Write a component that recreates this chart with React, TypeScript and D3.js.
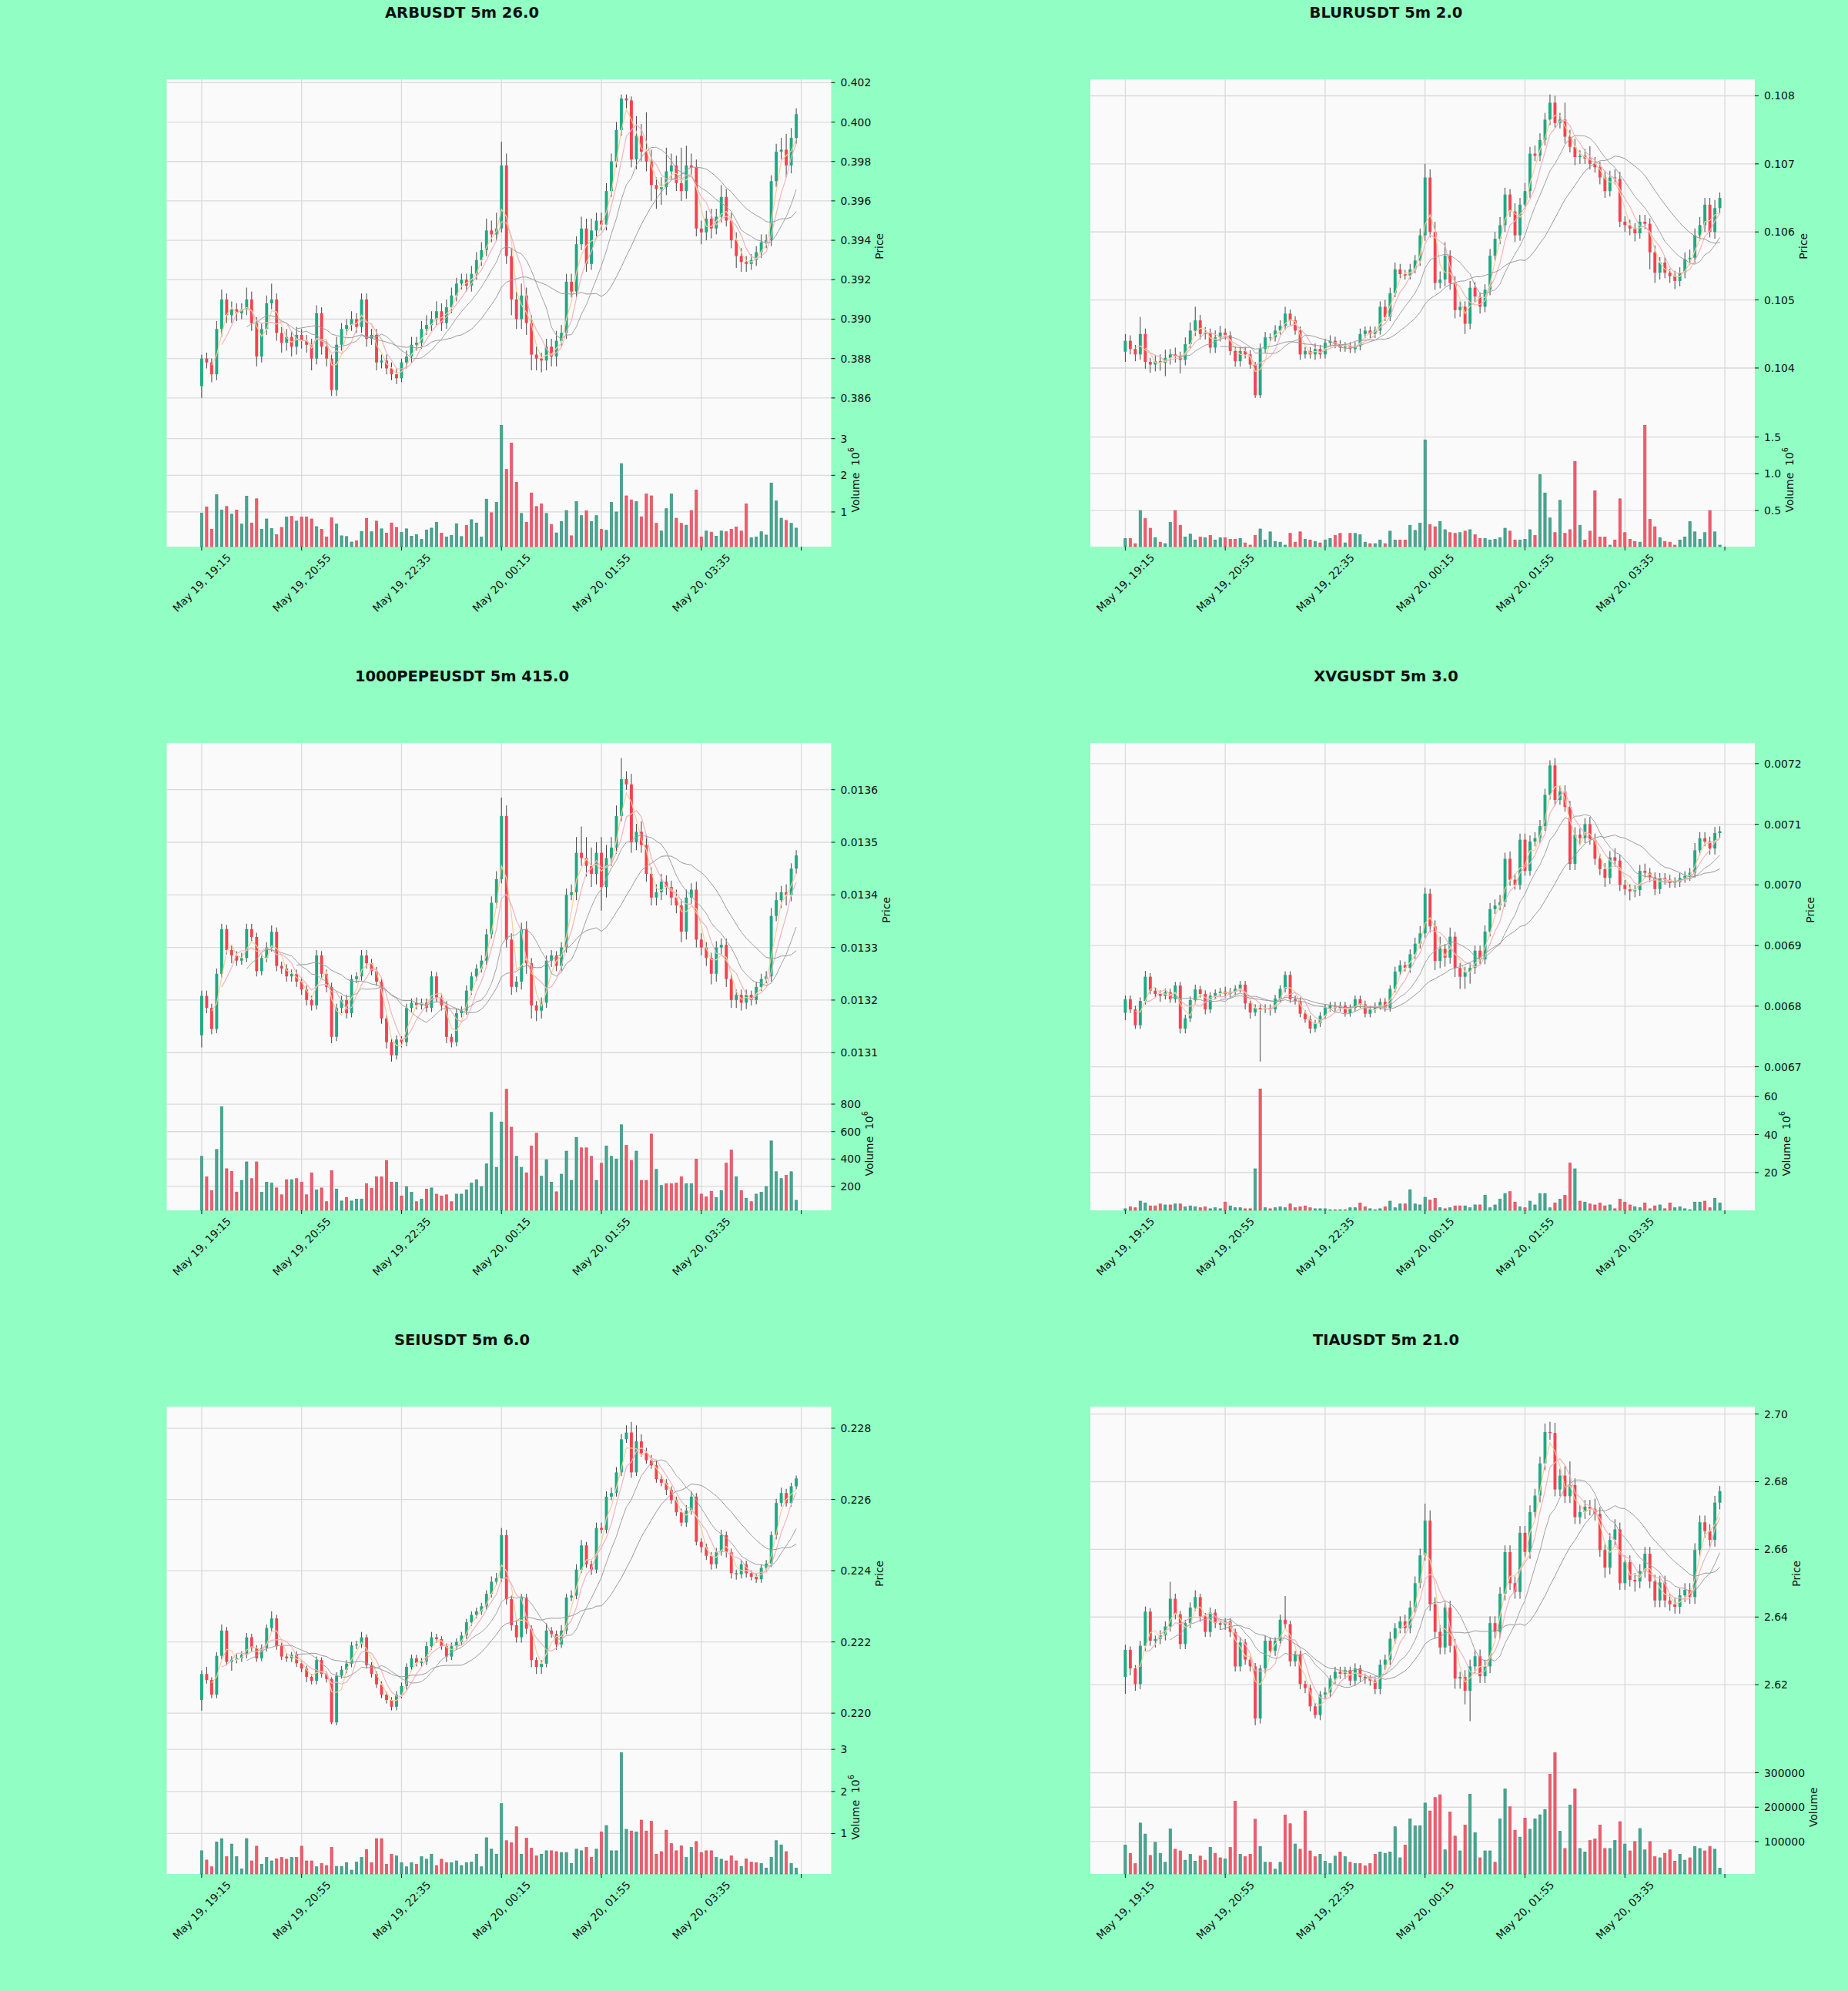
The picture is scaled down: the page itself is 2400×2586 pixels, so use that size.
import React from 'react'
import * as d3 from 'd3'

// figure
const W = 2400
const H = 2586
const FIG_BG = '#91ffc3'
const AX_BG = '#fafafa'
const GRID = '#dadada'
const TXT = '#101010'
const FONT = '"DejaVu Sans", sans-serif'

const UP = '#1fa982'
const DOWN = '#f4434f'
const VOL_UP = '#47a892'
const VOL_DOWN = '#ef5d6d'
const WICK = '#454545'

const mavPeriods = [3, 5, 10, 20]
const mavColors = ['#f6cf98', '#f5b3bd', '#a2a2a2', '#9a9a9a']

const xTickIdx = [0, 20, 40, 60, 80, 100, 120]
const xTickLabels = ['May 19, 19:15', 'May 19, 20:55', 'May 19, 22:35', 'May 20, 00:15', 'May 20, 01:55', 'May 20, 03:35', '']

// ---- ARBUSDT (prices x1e-4, volume x1e6)
const arbOpen0 = 3866
const arbClose = [3880,3878,3872,3895,3910,3902,3905,3903,3905,3910,
  3898,3881,3895,3908,3910,3893,3888,3891,3886,3892,
  3889,3887,3880,3903,3886,3880,3864,3887,3895,3897,
  3900,3896,3910,3890,3892,3878,3879,3875,3872,3870,
  3878,3881,3887,3888,3895,3897,3900,3904,3898,3906,
  3912,3918,3920,3917,3923,3930,3935,3945,3943,3946,
  3978,3932,3910,3900,3912,3898,3882,3880,3879,3886,
  3881,3889,3893,3919,3914,3938,3946,3928,3945,3950,
  3948,3965,3980,3996,4012,4011,3981,3993,3985,3980,
  3968,3966,3967,3975,3978,3969,3965,3978,3977,3946,
  3944,3951,3946,3952,3962,3950,3940,3932,3929,3928,
  3930,3934,3939,3940,3970,3985,3986,3978,3992,4004]
const arbHiWick = [2,3,2,4,5,3,4,3,3,6, 4,3,3,4,8,3,3,4,3,4, 3,3,3,4,3,3,2,4,3,3,
  4,3,3,3,3,3,3,3,3,3, 2,3,4,3,4,5,4,5,4,4, 4,3,3,3,4,4,4,6,5,8,
  12,6,4,4,6,4,4,4,3,4, 4,5,4,4,4,4,6,5,6,4, 4,4,4,4,2,2,2,10,6,20,
  6,4,5,12,6,5,18,10,6,4, 4,4,5,4,6,4,4,4,4,3, 3,3,4,3,3,4,6,8,5,3]
const arbLoWick = [6,3,4,3,4,4,4,4,3,3, 4,5,3,3,3,4,5,4,5,4, 4,4,6,3,4,4,3,3,3,3,
  3,3,3,4,3,4,3,3,3,3, 2,3,3,3,3,3,3,3,4,3, 3,3,3,3,3,3,3,3,4,3,
  2,4,8,5,5,6,8,6,6,5, 5,5,3,3,3,3,3,4,3,3, 3,3,3,3,3,4,4,5,5,5,
  8,10,8,4,4,4,5,4,4,4, 6,4,5,3,3,3,4,6,5,4, 3,3,3,3,3,3,4,6,4,3]
const arbVolume = [0.97,1.14,0.53,1.47,1.05,1.15,0.94,1.05,0.67,1.43,
  0.70,1.36,0.53,0.81,0.55,0.38,0.58,0.86,0.88,0.75,
  0.86,0.86,0.81,0.60,0.53,0.32,0.84,0.67,0.35,0.33,
  0.18,0.21,0.47,0.82,0.46,0.75,0.54,0.42,0.70,0.58,
  0.44,0.54,0.34,0.38,0.25,0.51,0.56,0.72,0.42,0.32,
  0.36,0.68,0.33,0.63,0.79,0.70,0.32,1.35,0.98,1.26,
  3.36,2.16,2.88,1.81,0.96,0.72,1.52,1.15,1.22,0.96,
  0.66,0.43,0.74,1.04,0.35,1.28,0.90,1.03,0.74,0.90,
  0.53,0.50,1.26,1.00,2.32,1.44,1.33,1.28,0.87,1.49,
  1.44,0.69,0.48,1.09,1.49,0.83,0.69,0.64,1.04,1.60,
  0.32,0.48,0.45,0.34,0.48,0.46,0.53,0.59,0.48,1.22,
  0.30,0.32,0.46,0.37,1.79,1.30,0.83,0.77,0.69,0.56]
const arbPriceTicks = ['0.386','0.388','0.390','0.392','0.394','0.396','0.398','0.400','0.402']

// ---- BLURUSDT (prices x1e-5, volume x1e6)
const blurOpen0 = 10424
const blurClose = [10440,10428,10420,10450,10409,10405,10410,10408,10415,10420,
  10418,10412,10435,10455,10470,10450,10452,10430,10445,10452,
  10448,10425,10410,10425,10420,10405,10360,10428,10445,10445,
  10455,10462,10480,10470,10455,10420,10425,10420,10428,10420,
  10437,10440,10435,10430,10432,10428,10432,10450,10455,10450,
  10455,10490,10475,10510,10545,10538,10536,10545,10558,10595,
  10680,10600,10525,10530,10565,10525,10485,10490,10465,10518,
  10505,10490,10515,10565,10590,10610,10655,10630,10595,10640,
  10660,10715,10712,10735,10765,10790,10760,10765,10740,10725,
  10710,10712,10708,10700,10695,10680,10660,10680,10678,10615,
  10610,10605,10598,10615,10612,10570,10540,10555,10540,10535,
  10528,10540,10560,10562,10595,10610,10640,10600,10635,10650]
const blurHiWick = [10,8,6,25,8,6,8,10,12,8, 10,6,10,12,20,8,8,6,10,10, 6,6,6,6,6,6,4,8,8,6,
  8,8,10,6,6,6,6,6,8,6, 6,8,6,6,6,6,6,8,6,6, 6,8,10,8,10,8,6,8,8,10,
  20,12,15,12,20,8,10,8,8,10, 8,6,8,10,10,12,10,8,12,10, 12,10,12,10,10,12,10,10,25,10,
  12,8,10,18,10,8,10,10,12,10, 8,8,8,10,10,8,10,8,8,6, 8,8,10,12,10,12,10,10,12,8]
const blurLoWick = [15,8,10,8,10,12,10,12,20,10, 10,20,8,6,8,8,8,8,8,6, 6,6,8,8,6,6,4,4,6,6,
  6,6,6,8,6,8,6,6,8,6, 6,6,6,6,6,6,6,6,6,6, 6,6,6,6,6,6,6,6,6,8,
  8,8,10,8,10,10,12,10,15,8, 8,10,8,8,8,8,10,8,10,8, 8,10,8,8,8,8,8,8,10,8,
  12,10,8,8,8,10,10,8,8,8, 10,10,12,8,8,25,15,10,8,10, 12,8,8,8,8,8,10,8,10,8]
const blurVolume = [0.12,0.12,0.05,0.5,0.39,0.26,0.13,0.07,0.05,0.34,
  0.5,0.3,0.14,0.18,0.1,0.14,0.13,0.16,0.1,0.13,
  0.13,0.11,0.11,0.12,0.06,0.03,0.16,0.25,0.1,0.21,
  0.08,0.07,0.03,0.19,0.07,0.21,0.11,0.1,0.08,0.06,
  0.1,0.12,0.16,0.19,0.06,0.19,0.19,0.17,0.07,0.05,
  0.05,0.1,0.05,0.22,0.1,0.1,0.1,0.3,0.23,0.33,
  1.46,0.31,0.28,0.35,0.24,0.2,0.19,0.2,0.22,0.24,
  0.17,0.12,0.12,0.1,0.11,0.13,0.26,0.22,0.1,0.1,
  0.11,0.24,0.16,0.99,0.74,0.4,0.2,0.64,0.19,0.24,
  1.17,0.3,0.1,0.22,0.77,0.14,0.14,0.03,0.1,0.66,
  0.2,0.11,0.08,0.07,1.66,0.38,0.28,0.13,0.08,0.07,
  0.03,0.1,0.14,0.35,0.21,0.11,0.2,0.5,0.21,0.03]
const blurPriceTicks = ['0.104','0.105','0.106','0.107','0.108']

// ---- 1000PEPEUSDT (prices x1e-6, volume x1e6)
const pepeOpen0 = 13133
const pepeClose = [13208,13185,13145,13250,13335,13295,13285,13275,13280,13335,
  13320,13255,13280,13300,13330,13265,13260,13245,13250,13235,
  13220,13200,13190,13285,13250,13225,13130,13185,13200,13175,
  13240,13245,13285,13270,13255,13235,13165,13120,13095,13125,
  13120,13185,13195,13190,13195,13185,13245,13205,13190,13130,
  13120,13175,13180,13218,13245,13260,13275,13325,13385,13430,
  13550,13315,13225,13235,13335,13270,13190,13180,13195,13275,
  13285,13265,13300,13400,13405,13480,13470,13455,13440,13480,
  13415,13470,13490,13550,13620,13610,13500,13520,13495,13440,
  13395,13405,13425,13415,13395,13380,13330,13395,13410,13315,
  13300,13280,13250,13300,13305,13240,13200,13210,13195,13210,
  13200,13225,13240,13245,13360,13390,13405,13400,13450,13475]
const pepeHiWick = [10,10,8,10,10,8,10,8,10,10, 10,8,8,10,12,8,8,8,8,8, 8,8,8,10,8,8,8,8,8,10,
  8,8,10,10,8,8,6,6,8,8, 6,8,8,10,8,8,10,8,8,8, 6,8,8,10,8,8,10,10,12,15,
  35,20,12,10,12,15,10,8,10,10, 10,8,10,12,15,30,50,40,35,20, 30,25,20,20,40,15,20,15,20,20,
  12,15,15,12,12,15,12,15,12,15, 12,10,10,12,12,12,10,10,10,10, 8,10,10,10,15,15,12,15,10,10]
const pepeLoWick = [23,10,10,8,8,8,15,10,8,8, 8,10,8,8,8,10,10,10,10,10, 10,10,10,8,8,10,12,8,10,10,
  8,8,8,10,8,8,10,12,12,8, 10,8,8,8,8,8,8,8,10,12, 10,8,8,8,8,8,8,8,8,10,
  8,15,15,10,15,20,25,20,15,10, 12,10,10,10,10,15,15,20,25,20, 45,20,15,12,10,10,20,15,15,15,
  15,15,15,15,15,15,20,15,12,15, 15,15,20,15,15,15,15,15,15,12, 10,8,8,8,10,10,15,20,12,10]
const pepeVolume = [420,270,170,470,780,330,310,160,245,380,
  258,380,158,232,225,190,140,250,250,258,
  232,140,300,175,190,90,315,182,95,120,
  95,108,108,220,188,270,270,390,232,232,
  132,200,158,90,108,182,190,145,132,140,
  90,145,145,175,225,250,200,365,740,340,
  670,908,632,420,340,300,495,588,275,395,
  232,162,290,458,245,558,482,482,420,245,
  370,495,420,400,650,500,390,458,245,245,
  582,325,208,220,220,225,270,220,220,400,
  145,125,165,120,170,370,465,270,170,115,
  90,145,158,200,532,308,258,282,308,100]
const pepePriceTicks = ['0.0131','0.0132','0.0133','0.0134','0.0135','0.0136']

// ---- XVGUSDT (prices x1e-7, volume x1e6)
const xvgOpen0 = 67890
const xvgClose = [68115,67945,67685,68085,68485,68255,68200,68170,68230,68115,
  68340,67630,67800,68100,68275,68200,67945,68170,68215,68240,
  68200,68240,68285,68355,68045,67895,67970,67945,67970,67945,
  68125,68285,68515,68115,68085,67875,67785,67630,67715,67840,
  67970,68010,67970,68010,67885,67970,68115,68030,67875,67945,
  68000,68070,67970,68285,68570,68675,68630,68855,69030,69200,
  69855,69315,68745,68945,68800,69145,68630,68485,68570,68630,
  68915,68770,69230,69600,69660,69715,70430,70085,70000,70745,
  70230,70715,70770,70970,71485,71970,71400,71540,71285,70345,
  70830,70770,71000,70745,70430,70260,70115,70455,70400,70000,
  69930,69895,69915,70230,70200,70125,69930,70115,70085,70030,
  70045,70115,70145,70200,70570,70770,70715,70600,70855,70885]
const xvgHiWick = [60,60,60,60,95,60,60,60,60,60, 60,60,60,60,80,60,60,60,60,60, 80,60,60,60,60,60,60,60,60,60,
  60,60,60,60,60,60,60,60,60,60, 60,60,60,60,60,60,60,60,60,60, 60,60,60,60,80,80,60,80,100,120,
  100,80,100,200,80,150,80,80,80,80, 80,80,100,100,100,120,100,120,100,100, 100,100,100,100,100,85,120,100,100,100,
  120,100,100,120,100,80,100,100,150,100, 80,80,80,100,120,80,80,80,80,80, 80,80,80,80,120,100,100,80,100,80]
const xvgLoWick = [120,60,60,60,60,60,60,100,60,60, 60,80,80,60,60,60,80,60,60,60, 60,60,60,60,100,100,60,860,60,100,
  60,60,60,60,60,60,60,80,60,60, 60,60,60,60,60,60,60,60,60,60, 60,60,60,60,60,60,60,80,80,80,
  80,100,150,120,150,100,150,200,200,200, 100,80,80,80,80,80,80,100,80,80, 80,80,80,80,80,80,100,80,80,100,
  100,100,80,80,100,100,150,100,100,100, 100,150,100,100,80,80,100,80,80,80, 80,80,80,80,80,80,80,100,100,80]
const xvgVolume = [1,2,1.5,5,4,2.5,2.5,3.5,3,3,
  3.5,3.5,2,2.5,2,1.5,2,1,1.5,1,
  4.5,2.5,1.5,1.5,1,1,22,64,1.5,1,
  1.5,2,1.5,3.5,1.5,2,2.5,1.5,1,1,
  1,0.5,0.5,0.5,0.5,1.5,1.5,4,2,1,
  0.5,1,2,5,1.5,3.5,3.5,11,3.5,3,
  7,5.5,6.5,1.5,1,1.5,2.5,2.5,2.5,1.5,
  3,3,8,1.5,3,6,9,10,4.5,2,
  1.5,5,3,9,9,1.5,4,6,8,25,
  22,5,4.5,3.5,3,4,2.5,3,1,6,
  4.5,3,2,1.5,4,1,2.5,3,1,4,
  1.5,2,1,0.5,4.5,4.5,5,1.5,6.5,4]
const xvgPriceTicks = ['0.0067','0.0068','0.0069','0.0070','0.0071','0.0072']

// ---- SEIUSDT (prices x1e-5, volume x1e6)
const seiOpen0 = 22037
const seiClose = [22110,22093,22052,22161,22232,22144,22150,22154,22164,22213,
  22183,22154,22183,22239,22266,22188,22159,22154,22164,22140,
  22125,22102,22091,22149,22110,22096,21974,22105,22122,22139,
  22190,22193,22213,22135,22110,22081,22052,22037,22018,22052,
  22076,22130,22154,22141,22145,22188,22213,22208,22188,22159,
  22188,22200,22218,22255,22276,22286,22300,22335,22369,22379,
  22500,22320,22247,22213,22325,22237,22149,22130,22139,22232,
  22222,22193,22232,22325,22330,22403,22471,22418,22403,22520,
  22515,22608,22618,22676,22769,22788,22676,22763,22730,22710,
  22696,22657,22647,22627,22598,22564,22535,22569,22608,22481,
  22466,22442,22418,22452,22500,22452,22393,22390,22418,22393,
  22383,22376,22408,22420,22500,22590,22618,22590,22637,22659]
const seiHiWick = [10,20,8,10,17,10,10,12,10,12, 10,8,10,10,20,10,10,10,8,10, 8,8,8,10,8,8,5,10,10,10,
  10,10,15,8,8,8,8,8,8,10, 10,10,10,10,10,12,15,10,8,8, 10,10,10,10,10,10,10,10,15,15,
  20,15,10,15,10,10,10,8,10,20, 10,10,15,10,15,15,15,10,10,15, 15,15,15,15,15,20,30,45,20,15,
  15,12,12,10,10,10,10,15,15,10, 10,10,10,12,15,10,10,10,12,10, 8,8,10,10,10,12,15,12,10,8]
const seiLoWick = [30,10,10,10,10,10,25,10,10,10, 10,10,8,10,10,10,10,10,10,10, 10,15,10,10,10,10,5,8,8,10,
  10,10,10,10,10,10,10,10,10,10, 10,10,10,10,10,10,10,10,10,15, 10,10,10,10,10,10,10,10,10,10,
  10,15,15,15,15,15,20,20,20,10, 10,15,10,10,10,10,10,10,15,10, 10,10,10,10,10,10,15,10,10,10,
  10,10,10,15,10,10,10,12,12,10, 15,12,15,12,10,15,15,15,12,12, 10,10,10,10,10,12,10,10,10,8]
const seiVolume = [0.59,0.37,0.21,0.8,0.88,0.45,0.75,0.45,0.16,0.88,
  0.35,0.7,0.27,0.43,0.35,0.4,0.43,0.39,0.43,0.43,
  0.7,0.35,0.35,0.21,0.29,0.24,0.67,0.22,0.22,0.31,
  0.13,0.32,0.43,0.62,0.31,0.88,0.88,0.27,0.51,0.47,
  0.31,0.21,0.31,0.27,0.45,0.39,0.51,0.24,0.39,0.31,
  0.31,0.35,0.24,0.31,0.32,0.51,0.21,0.9,0.63,0.51,
  1.71,0.83,0.78,1.16,0.51,0.89,0.65,0.47,0.51,0.59,
  0.59,0.57,0.55,0.55,0.29,0.63,0.59,0.67,0.43,0.63,
  1.04,1.19,0.59,0.59,2.92,1.1,1.06,1.04,1.32,1.06,
  1.29,0.51,0.57,1.08,0.76,0.59,0.71,0.43,0.67,0.81,
  0.55,0.59,0.59,0.43,0.39,0.35,0.47,0.35,0.22,0.4,
  0.32,0.31,0.29,0.18,0.43,0.83,0.73,0.57,0.29,0.18]
const seiPriceTicks = ['0.220','0.222','0.224','0.226','0.228']

// ---- TIAUSDT (prices x1e-3, volume in thousands)
const tiaOpen0 = 2622.3
const tiaClose = [2630.3,2624.8,2620.2,2631.5,2641.6,2633,2633.5,2634.6,2637.2,2645.4,
  2640.8,2632,2638.2,2642.8,2645.9,2640.2,2635.6,2641.3,2638.2,2637.7,
  2638.7,2635.6,2625.4,2632.5,2627.4,2625.4,2610,2624.8,2633,2630,
  2633,2639.2,2637.9,2626.9,2629,2620.2,2619,2613.6,2611,2617.1,
  2617.7,2621.8,2623.8,2623.2,2624.3,2621.2,2624.8,2622.3,2621.8,2621.2,
  2618.7,2625.9,2627.4,2633.6,2636.7,2638.7,2636.7,2642.8,2650,2658.2,
  2668.5,2643.8,2635.6,2631,2642.8,2631.5,2621.8,2622.3,2618.2,2625.4,
  2628.4,2622.5,2625.4,2638.2,2635.6,2646.9,2659.2,2650,2647.4,2664.9,
  2659.2,2671,2675.9,2685.4,2694.7,2694.4,2677.7,2681.8,2675.7,2679,
  2669.5,2671,2672.6,2672,2670.5,2659.8,2654.6,2662.8,2665.9,2650,
  2656.2,2651,2650.5,2653.6,2658.7,2650.5,2644.9,2650.2,2644.9,2643.8,
  2643,2646.4,2648,2645.9,2659.8,2668,2665.4,2662.8,2673.8,2677.2]
const tiaHiWick = [1.5,1,1,1.5,1.5,1,1,1.5,1.5,5, 1.5,1,1,1.5,2,1,1,1.5,1,1, 1,1,1,1.5,1,1,1,1,1.5,1,
  1,1.5,7,1,1,1,1,1,1,1, 1.5,1,1.5,1.5,1,1,1.5,1,1,1, 1,1.5,1.5,2,1.5,1.5,2,2,2,2,
  5,3,2,2,2,2,2,1.5,2,2, 2,2,2,2,2,2,2,2,2,2, 2,2,2,2,2.5,3,3,2,3,7,
  2,2,2,2,3,2,2,2,3,2, 2,2,2,2,2,2,2,2,2,2, 2,2,2,2,2,2,2,2,2,1.5]
const tiaLoWick = [5,2,2,1.5,1.5,1.5,2,1.5,1.5,1.5, 1.5,1.5,1.5,1.5,1,1.5,1.5,1.5,1.5,1.5, 1.5,1.5,1.5,1.5,1.5,1.5,2,1.5,1.5,1.5,
  1.5,1.5,1.5,1.5,1.5,1.5,1.5,1.5,1,1.5, 1.5,1.5,1.5,1.5,1.5,1.5,1.5,1.5,1.5,1.5, 1.5,1.5,1.5,1.5,1.5,1.5,1.5,1.5,1.5,1.5,
  1.5,2,2,2,2,2,3,3,4,9, 2,2,2,2,2,2,2,2,2,2, 2,2,2,2,2,2,2,2,2,2,
  2,2,2,2,2,2,3,2,2,2, 2,2,3,2,2,2,2,2,2,2, 2,2,2,2,2,2,2,2,2,2]
const tiaVolume = [90,66,36,154,122,60,98,66,40,137,
  78,73,46,63,43,58,46,83,66,53,
  50,83,217,63,56,63,165,86,40,40,
  20,40,177,152,93,78,189,73,56,63,
  43,36,58,70,56,40,36,36,30,36,
  63,70,66,70,143,53,90,166,146,146,
  212,189,228,236,76,186,116,73,148,238,
  126,53,73,73,40,166,253,201,133,113,
  168,136,166,178,193,296,358,130,80,206,
  253,80,70,103,108,148,80,80,103,158,
  93,73,100,138,76,100,56,53,66,76,
  43,63,46,53,86,80,73,86,78,23]
const tiaPriceTicks = ['2.62','2.64','2.66','2.68','2.70']

interface PanelSpec {
  title: string
  unit: number
  open0: number
  close: number[]
  hi: number[]
  lo: number[]
  vol: number[]
  volMul: number
  volExp: boolean
  priceTicks: string[]
}

const panels: PanelSpec[] = [
  { title: 'ARBUSDT 5m 26.0', unit: 1e-4, open0: arbOpen0, close: arbClose, hi: arbHiWick, lo: arbLoWick, vol: arbVolume, volMul: 1, volExp: true, priceTicks: arbPriceTicks },
  { title: 'BLURUSDT 5m 2.0', unit: 1e-5, open0: blurOpen0, close: blurClose, hi: blurHiWick, lo: blurLoWick, vol: blurVolume, volMul: 1, volExp: true, priceTicks: blurPriceTicks },
  { title: '1000PEPEUSDT 5m 415.0', unit: 1e-6, open0: pepeOpen0, close: pepeClose, hi: pepeHiWick, lo: pepeLoWick, vol: pepeVolume, volMul: 1, volExp: true, priceTicks: pepePriceTicks },
  { title: 'XVGUSDT 5m 3.0', unit: 1e-7, open0: xvgOpen0, close: xvgClose, hi: xvgHiWick, lo: xvgLoWick, vol: xvgVolume, volMul: 1, volExp: true, priceTicks: xvgPriceTicks },
  { title: 'SEIUSDT 5m 6.0', unit: 1e-5, open0: seiOpen0, close: seiClose, hi: seiHiWick, lo: seiLoWick, vol: seiVolume, volMul: 1, volExp: true, priceTicks: seiPriceTicks },
  { title: 'TIAUSDT 5m 21.0', unit: 1e-3, open0: tiaOpen0, close: tiaClose, hi: tiaHiWick, lo: tiaLoWick, vol: tiaVolume, volMul: 1000, volExp: false, priceTicks: tiaPriceTicks },
]

// layout
const colX = [216.5, 1416]
const rowY = [103, 965, 1827]
const AW = 863
const AH = 607
const PH = AH * 5 / 7
const FS = 13.9

const textW = (s: string) => s.split('').reduce((a, ch) => a + (ch === '.' ? 0.318 : 0.636), 0) * FS

function Panel({ spec, x0, y0 }: { spec: PanelSpec; x0: number; y0: number }) {
  const u = spec.unit
  const candles = spec.close.map((c, i) => {
    const o = i === 0 ? spec.open0 : spec.close[i - 1]
    return {
      i,
      o: o * u,
      c: c * u,
      h: (Math.max(o, c) + spec.hi[i]) * u,
      l: (Math.min(o, c) - spec.lo[i]) * u,
      v: spec.vol[i] * spec.volMul,
      up: c >= o,
    }
  })

  const x = d3.scaleLinear().domain([-7, 126]).range([0, AW])
  const step = x(1) - x(0)

  const pmin = d3.min(candles, d => d.l) as number
  const pmax = d3.max(candles, d => d.h) as number
  const pad = (pmax - pmin) * 0.05
  const y = d3.scaleLinear().domain([pmin - pad, pmax + pad]).range([PH, 0])

  const vmin = d3.min(candles, d => d.v) as number
  const vmax = d3.max(candles, d => d.v) as number
  const yv = d3.scaleLinear().domain([0.3 * vmin, 1.1 * vmax]).range([AH, PH])
  const vTicks = yv.ticks(4).filter(t => t > yv.domain()[0] && t < yv.domain()[1] * 0.985)
  const vFmt = yv.tickFormat(4, 'f')

  const closes = candles.map(d => d.c)
  const mavs = mavPeriods.map(p =>
    closes.map((_, i) => (i < p - 1 ? null : d3.mean(closes.slice(i - p + 1, i + 1)) as number))
  )
  const line = d3.line<number | null>()
    .defined(d => d !== null)
    .x((_, i) => x(i))
    .y(d => y(d as number))

  const maxTickW = d3.max(spec.priceTicks, s => textW(s)) as number
  const maxVTickW = d3.max(vTicks, t => textW(vFmt(t))) as number
  const labX = AW + 12

  return (
    <g transform={`translate(${x0},${y0})`}>
      <text x={(x0 < 1000 ? 600 : 1800) - x0} y={-87} textAnchor="middle" dominantBaseline="central"
        fontFamily={FONT} fontWeight="bold" fontSize={19.5} fill={TXT}>{spec.title}</text>
      <rect x={0} y={0} width={AW} height={AH} fill={AX_BG} />
      {/* grid */}
      {xTickIdx.map(t => (
        <line key={'gx' + t} x1={x(t)} x2={x(t)} y1={0} y2={AH} stroke={GRID} strokeWidth={1.3} />
      ))}
      {spec.priceTicks.map(s => (
        <line key={'gy' + s} x1={0} x2={AW} y1={y(+s)} y2={y(+s)} stroke={GRID} strokeWidth={1.3} />
      ))}
      {vTicks.map(t => (
        <line key={'gv' + t} x1={0} x2={AW} y1={yv(t)} y2={yv(t)} stroke={GRID} strokeWidth={1.3} />
      ))}
      {/* volume */}
      {candles.map(d => (
        <rect key={'v' + d.i} x={x(d.i) - step * 0.25} width={step * 0.5}
          y={yv(d.v)} height={Math.max(0, AH - yv(d.v))}
          fill={d.up ? VOL_UP : VOL_DOWN} stroke={d.up ? '#358f7b' : '#d94c5c'} strokeWidth={0.7} />
      ))}
      {/* candles */}
      {candles.map(d => (
        <line key={'w' + d.i} x1={x(d.i)} x2={x(d.i)} y1={y(d.h)} y2={y(d.l)} stroke={WICK} strokeWidth={1} />
      ))}
      {candles.map(d => {
        const top = y(Math.max(d.o, d.c))
        const h = Math.max(1, Math.abs(y(d.o) - y(d.c)))
        return (
          <rect key={'b' + d.i} x={x(d.i) - step * 0.3} width={step * 0.6} y={top} height={h}
            fill={d.up ? UP : DOWN} />
        )
      })}
      {/* moving averages */}
      {mavs.map((m, k) => (
        <path key={'ma' + k} d={line(m) as string} fill="none" stroke={mavColors[k]}
          strokeWidth={k < 2 ? 1.2 : 1} />
      ))}
      {/* right axis ticks */}
      {spec.priceTicks.map(s => (
        <g key={'pt' + s} transform={`translate(0,${y(+s)})`}>
          <line x1={AW} x2={AW + 5} stroke={TXT} strokeWidth={1} />
          <text x={labX} fontFamily={FONT} fontSize={FS} fill={TXT} dominantBaseline="central">{s}</text>
        </g>
      ))}
      {vTicks.map(t => (
        <g key={'vt' + t} transform={`translate(0,${yv(t)})`}>
          <line x1={AW} x2={AW + 5} stroke={TXT} strokeWidth={1} />
          <text x={labX} fontFamily={FONT} fontSize={FS} fill={TXT} dominantBaseline="central">{vFmt(t)}</text>
        </g>
      ))}
      <text transform={`translate(${labX + maxTickW + 11},${PH / 2}) rotate(-90)`} textAnchor="middle"
        dominantBaseline="central" fontFamily={FONT} fontSize={FS} fill={TXT}>Price</text>
      <text transform={`translate(${labX + maxVTickW + 11},${(PH + AH) / 2}) rotate(-90)`} textAnchor="middle"
        dominantBaseline="central" fontFamily={FONT} fontSize={FS} fill={TXT}>
        {spec.volExp ? (
          <>Volume{'\u00a0\u00a0'}10<tspan dy={-6} fontSize={FS * 0.7}>6</tspan></>
        ) : 'Volume'}
      </text>
      {/* x axis */}
      {xTickIdx.map((t, k) => (
        <g key={'xt' + t}>
          <line x1={x(t)} x2={x(t)} y1={AH} y2={AH + 5} stroke={TXT} strokeWidth={1} />
          <text transform={`translate(${x(t)},${AH + 47}) rotate(-45)`} textAnchor="middle"
            dominantBaseline="central" fontFamily={FONT} fontSize={FS} fill={TXT}>{xTickLabels[k]}</text>
        </g>
      ))}
    </g>
  )
}

export default function App() {
  return (
    <svg width={W} height={H} viewBox={`0 0 ${W} ${H}`}
      style={{ position: 'absolute', left: 0, top: 0, display: 'block' }}>
      <rect x={0} y={0} width={W} height={H} fill={FIG_BG} />
      {panels.map((p, k) => (
        <Panel key={p.title} spec={p} x0={colX[k % 2]} y0={rowY[Math.floor(k / 2)]} />
      ))}
    </svg>
  )
}
